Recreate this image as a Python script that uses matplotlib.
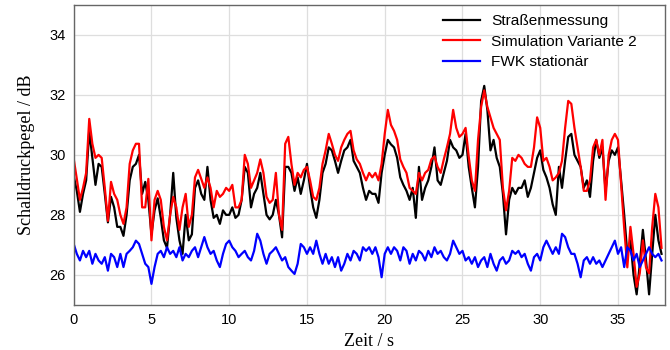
import numpy as np
import matplotlib
matplotlib.use("Agg")
import matplotlib.pyplot as plt

strasse = [
    29.3, 28.8, 28.1, 28.7, 29.15, 30.8, 29.9, 29.0, 29.7, 29.6,
    28.7, 27.75, 28.6, 28.25, 27.6, 27.6, 27.3, 28.0, 29.15, 29.6,
    29.7, 30.0, 28.7, 29.1, 28.5, 27.35, 28.15, 28.55, 27.9, 27.15,
    26.9, 28.0, 29.4, 27.9, 27.15, 26.7, 28.0, 27.15, 27.35, 28.9,
    29.15, 28.7, 28.5, 29.6, 28.5, 27.9, 28.0, 27.7, 28.15, 28.0,
    28.0, 28.25, 27.9, 28.0, 28.5, 29.6, 29.4, 28.25, 28.7, 28.9,
    29.4, 28.7, 28.0, 27.85, 28.0, 28.5, 28.0, 27.25, 29.6, 29.6,
    29.4, 28.8, 29.25, 28.7, 29.15, 29.7, 28.9, 28.25, 27.9, 28.5,
    29.4, 29.7, 30.25, 30.15, 29.8, 29.4, 29.8, 30.15, 30.25, 30.5,
    29.8, 29.6, 29.4, 28.9, 28.5, 28.8, 28.7, 28.7, 28.4, 29.4,
    30.0, 30.5, 30.35, 30.25, 29.9, 29.25, 29.0, 28.8, 28.5, 28.9,
    27.9, 29.6, 28.5, 28.9, 29.15, 29.6, 30.25, 29.15, 29.0, 29.4,
    29.8, 30.5, 30.25, 30.15, 29.9, 30.0, 30.7, 29.6, 28.9, 28.25,
    29.6, 31.8, 32.3, 31.5, 30.15, 30.5, 29.9, 29.6, 28.7, 27.35,
    28.5, 28.9, 28.7, 28.9, 28.9, 29.15, 28.6, 28.9, 29.4, 29.9,
    30.15, 29.5, 29.25, 28.9, 28.35, 28.0, 29.6, 28.9, 29.8, 30.6,
    30.7, 30.0, 29.8, 29.6, 28.9, 29.15, 28.6, 29.8, 30.5, 29.9,
    30.25, 28.8, 29.8, 30.15, 30.0, 30.25, 29.15, 28.0, 26.7, 27.15,
    26.0, 25.35, 26.35, 27.5, 26.5, 25.35, 26.7, 28.0, 27.15, 26.7,
]
simulation = [
    29.87, 29.2, 28.5, 28.9, 29.4, 31.2, 30.37, 29.9, 30.0, 29.9,
    28.9, 27.8, 29.1, 28.7, 28.5, 28.0, 27.7, 28.25, 29.7, 30.15,
    30.37, 30.37, 28.25, 28.25, 29.2, 27.15, 28.5, 28.8, 28.5, 27.6,
    27.15, 28.0, 28.6, 28.25, 27.5, 28.25, 28.7, 27.6, 28.0, 29.25,
    29.5, 29.2, 28.9, 29.25, 28.9, 28.25, 28.8, 28.6, 28.7, 28.9,
    28.8, 29.0, 28.25, 28.25, 28.5, 30.0, 29.7, 28.9, 29.15, 29.4,
    29.85, 29.4, 28.6, 28.4, 28.5, 29.4, 28.0, 27.5, 30.37, 30.6,
    29.7, 29.0, 29.4, 29.25, 29.5, 29.6, 29.15, 28.6, 28.5, 28.9,
    29.7, 30.15, 30.7, 30.37, 30.0, 29.8, 30.25, 30.5, 30.7, 30.8,
    30.15, 29.85, 29.7, 29.4, 29.15, 29.4, 29.25, 29.4, 29.15, 29.7,
    30.7, 31.5, 31.0, 30.8, 30.5, 29.85, 29.6, 29.4, 28.9, 28.8,
    28.7, 29.4, 29.15, 29.4, 29.5, 29.85, 29.95, 29.6, 29.4, 29.85,
    30.25, 30.7, 31.5, 30.9, 30.6, 30.7, 30.9, 29.95, 29.15, 28.8,
    30.5, 31.6, 32.15, 31.6, 31.25, 30.9, 30.7, 30.5, 28.9, 28.15,
    28.8, 29.9, 29.8, 30.0, 29.9, 29.7, 29.6, 29.6, 30.25, 31.25,
    30.9, 29.8, 29.9, 29.6, 29.15, 29.25, 29.4, 29.8, 30.9, 31.8,
    31.7, 30.9, 30.25, 29.6, 28.8, 28.8, 29.15, 30.25, 30.5, 30.0,
    30.5, 28.5, 30.0, 30.5, 30.7, 30.5, 29.0, 27.55, 26.25, 27.6,
    26.7, 25.6, 26.05, 27.15, 26.25, 26.05, 27.6, 28.7, 28.25, 26.9,
]
fwk = [
    27.03, 26.7, 26.48, 26.8, 26.59, 26.8, 26.37, 26.7, 26.48, 26.37,
    26.59, 26.14, 26.7, 26.59, 26.26, 26.7, 26.26, 26.7, 26.8, 26.92,
    27.14, 27.03, 26.7, 26.37, 26.26, 25.7, 26.26, 26.7, 26.8, 26.59,
    26.92, 26.7, 26.8, 26.59, 26.92, 26.48, 26.7, 26.59, 26.8, 26.92,
    26.59, 26.92, 27.26, 26.92, 26.7, 26.8, 26.48, 26.26, 26.7, 27.03,
    27.14, 26.92, 26.8, 26.59, 26.7, 26.8, 26.59, 26.48, 26.8, 27.37,
    27.14, 26.7, 26.37, 26.7, 26.8, 26.92, 26.7, 26.48, 26.59, 26.26,
    26.14, 26.03, 26.37, 27.03, 26.92, 26.7, 26.92, 26.7, 27.14, 26.7,
    26.37, 26.7, 26.37, 26.59, 26.26, 26.59, 26.14, 26.37, 26.7, 26.48,
    26.8, 26.7, 26.48, 26.92, 26.8, 26.92, 26.7, 26.92, 26.59, 25.92,
    26.7, 26.92, 26.7, 26.92, 26.8, 26.48, 26.92, 26.8, 26.37, 26.7,
    26.48, 26.8, 26.7, 26.48, 26.8, 26.59, 26.92, 26.7, 26.8, 26.59,
    26.48, 26.7, 27.14, 26.92, 26.7, 26.8, 26.48, 26.59, 26.37, 26.59,
    26.26, 26.48, 26.59, 26.26, 26.7, 26.37, 26.14, 26.48, 26.59, 26.37,
    26.48, 26.8, 26.7, 26.8, 26.59, 26.7, 26.37, 26.14, 26.59, 26.7,
    26.48, 26.92, 27.14, 26.92, 26.7, 26.92, 26.7, 27.37, 27.26, 26.92,
    26.7, 26.7, 26.37, 25.92, 26.48, 26.59, 26.37, 26.59, 26.37, 26.48,
    26.26, 26.48, 26.7, 26.92, 27.14, 26.7, 26.92, 26.26, 26.92, 26.8,
    26.48, 26.7, 26.26, 26.48, 26.7, 26.92, 26.7, 26.59, 26.7, 26.48,
]
zeit = np.arange(len(strasse)) * 0.2

xticks = [0, 5, 10, 15, 20, 25, 30, 35]
yticks = [26, 28, 30, 32, 34]

fig = plt.figure(figsize=(6.7, 3.5), dpi=100)
ax = fig.add_axes([0.110, 0.129, 0.882, 0.857])

ax.plot(zeit, strasse, color="black", lw=1.6, label="Straßenmessung")
ax.plot(zeit, simulation, color="#ff0000", lw=1.6, label="Simulation Variante 2")
ax.plot(zeit, fwk, color="#0000ff", lw=1.6, label="FWK stationär")

ax.set_xlim(0, 38)
ax.set_ylim(25, 35)
ax.set_xticks(xticks)
ax.set_yticks(yticks)
ax.grid(True, color="#dedede", lw=0.9)
ax.set_axisbelow(True)
ax.tick_params(length=0, labelsize=10.5, pad=6)
for lab in ax.get_xticklabels() + ax.get_yticklabels():
    lab.set_family("Liberation Sans")
for s in ax.spines.values():
    s.set_color("#666666")
    s.set_linewidth(1.0)

ax.set_xlabel("Zeit / s", family="Liberation Serif", fontsize=13, labelpad=4)
ax.set_ylabel("Schalldruckpegel / dB", family="Liberation Serif", fontsize=13, labelpad=10)

leg = ax.legend(loc="upper right", bbox_to_anchor=(0.963, 0.99), frameon=False,
                prop={"family": "Liberation Sans", "size": 11.1},
                handlelength=2.4, handletextpad=0.7, labelspacing=0.42, borderaxespad=0.0)

fig.savefig("out.png", dpi=100)
